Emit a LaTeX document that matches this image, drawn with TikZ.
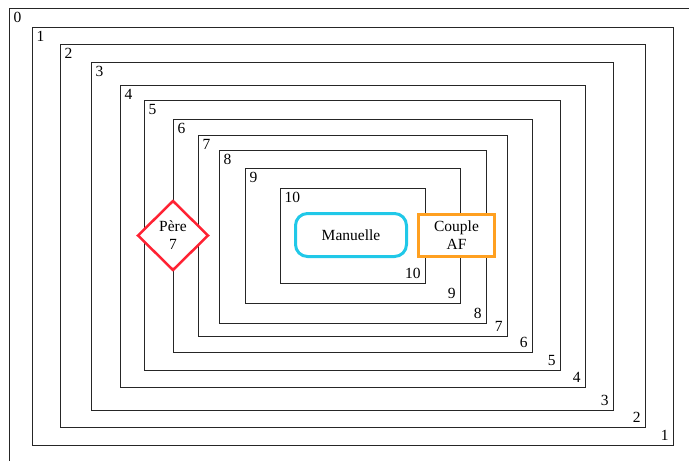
\documentclass[tikz,border=0pt]{standalone}
\usepackage{fontspec}
\setmainfont{Liberation Serif}
\usetikzlibrary{shapes.geometric}

\definecolor{perered}{HTML}{FF2233}
\definecolor{manucyan}{HTML}{20C8E8}
\definecolor{coupleorange}{HTML}{FFA020}

\tikzset{
	frame/.style={draw=black!85, line width=1pt},
	tl/.style={anchor=north west, inner sep=4pt},
	br/.style={anchor=south east, inner sep=4pt},
	pere/.style={diamond, draw=perered, fill=white, line width=2.5pt, inner sep=0pt,
		minimum width=71pt, minimum height=70pt, align=center},
	manu/.style={rectangle, rounded corners=12pt, draw=manucyan, fill=white, line width=3pt,
		minimum width=111pt, minimum height=43pt},
	couple/.style={rectangle, draw=coupleorange, fill=white, line width=3pt,
		minimum width=76pt, minimum height=42pt, align=center},
}

\begin{document}
\begin{tikzpicture}[x=1pt, y=-1pt, font=\fontsize{15.5}{18}\selectfont]
		\useasboundingbox (0,0) rectangle (689,461);
		\clip (0,0) rectangle (689,461);
		
		% nested frames, numbered at both corners
		\draw[frame] (9,8) node[tl] (t0) {0} rectangle (696,464);
		\draw[frame] (32,27) node[tl] (t1) {1} rectangle (673,445) node[br] (b1) {1};
		\draw[frame] (60,44) node[tl] (t2) {2} rectangle (645,427) node[br] (b2) {2};
		\draw[frame] (91,62) node[tl] (t3) {3} rectangle (613,410) node[br] (b3) {3};
		\draw[frame] (120,85) node[tl] (t4) {4} rectangle (585,387) node[br] (b4) {4};
		\draw[frame] (144,100) node[tl] (t5) {5} rectangle (560,370) node[br] (b5) {5};
		\draw[frame] (173,119) node[tl] (t6) {6} rectangle (532,352) node[br] (b6) {6};
		\draw[frame] (198,135) node[tl] (t7) {7} rectangle (507,336) node[br] (b7) {7};
		\draw[frame] (219,150) node[tl] (t8) {8} rectangle (486,323) node[br] (b8) {8};
		\draw[frame] (245,168) node[tl] (t9) {9} rectangle (460,303) node[br] (b9) {9};
		\draw[frame] (280,188) node[tl] (t10) {10} rectangle (425,283) node[br] (b10) {10};
		
		% members
		\node[pere] (pere) at (173,235.5) {Père\\7};
		\node[manu] (manuelle) at (351,235) {Manuelle};
		\node[couple] (coupleaf) at (456.5,235.5) {Couple\\AF};
	\end{tikzpicture}
\end{document}
